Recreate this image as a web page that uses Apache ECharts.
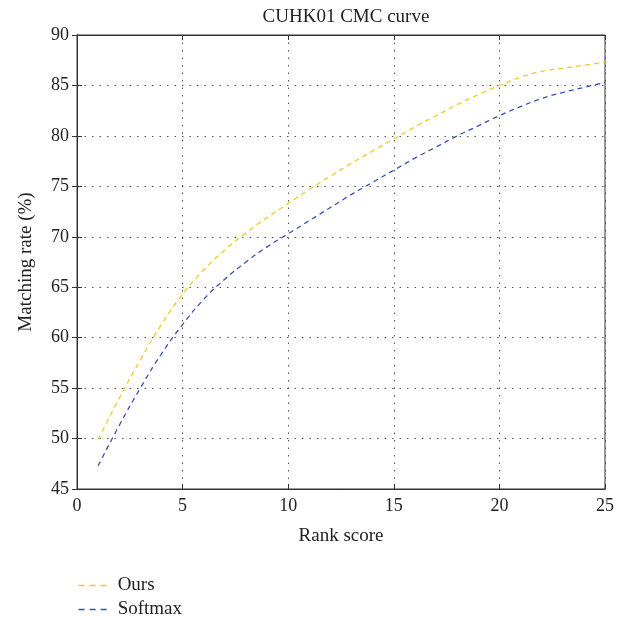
<!DOCTYPE html>
<html><head><meta charset="utf-8">
<script src="https://cdn.jsdelivr.net/npm/echarts@6/dist/echarts.min.js"></script>
<style>html,body{margin:0;padding:0;background:#fff}#c{width:625px;height:618px}</style>
</head><body><div id="c"></div>
<script>
const ranks = [1,2,3,4,5,6,7,8,9,10,11,12,13,14,15,16,17,18,19,20,21,22,23,24,25];
const ours = [49.9,54.0,57.8,61.3,64.3,66.7,68.7,70.4,71.9,73.3,74.7,76.0,77.3,78.5,79.7,80.9,82.0,83.1,84.1,85.0,85.8,86.4,86.7,87.0,87.3];
const softmax = [47.3,51.3,55.0,58.4,61.3,63.8,65.8,67.5,69.0,70.3,71.6,72.9,74.2,75.4,76.6,77.8,78.9,80.0,81.0,82.0,82.9,83.7,84.3,84.8,85.3];
const seriesNames = ['Ours','Softmax'];
const FONT = '"Liberation Serif","DejaVu Serif",serif';
const FS = 19;
const chart = echarts.init(document.getElementById('c'));
const gridLine = {show:true, lineStyle:{color:'#555', type:[1.5,6], width:1}};
const legendBase = {orient:'vertical', left:78, padding:0, itemWidth:29, itemHeight:12, itemGap:4,
  itemStyle:{opacity:0}, lineStyle:{type:[6,5], width:1.3},
  textStyle:{fontFamily:FONT, fontSize:FS, color:'#222', padding:[0,0,0,5]}};
chart.setOption({
  animation:false,
  textStyle:{fontFamily:FONT},
  title:{text:'CUHK01 CMC curve', left:341, top:3, textAlign:'center',
    textStyle:{fontFamily:FONT, fontSize:FS, fontWeight:'normal', color:'#222'}},
  grid:{left:77, right:20, top:35, bottom:129, show:true, borderColor:'#333', borderWidth:1},
  legend:[Object.assign({top:576, data:[seriesNames[0]]}, legendBase),
          Object.assign({top:600, data:[seriesNames[1]]}, legendBase)],
  xAxis:[{type:'value', min:0, max:25, interval:5, name:'Rank score', nameLocation:'middle', nameGap:38,
    nameTextStyle:{fontFamily:FONT, fontSize:FS, color:'#222'},
    axisLine:{show:true, lineStyle:{color:'#333'}}, axisTick:{inside:true, length:5, lineStyle:{color:'#333'}},
    axisLabel:{fontFamily:FONT, fontSize:18, color:'#222', margin:8}, splitLine:gridLine},
    {type:'value', position:'top', min:0, max:25, interval:5, axisLine:{show:true, lineStyle:{color:'#333'}},
    axisTick:{inside:true, length:5, lineStyle:{color:'#333'}}, axisLabel:{show:false}, splitLine:{show:false}}],
  yAxis:[{type:'value', min:45, max:90, interval:5, name:'Matching rate (%)', nameLocation:'middle', nameGap:41,
    nameTextStyle:{fontFamily:FONT, fontSize:FS, color:'#222'},
    axisLine:{show:true, lineStyle:{color:'#333'}}, axisTick:{inside:true, length:5, lineStyle:{color:'#333'}},
    axisLabel:{fontFamily:FONT, fontSize:18, color:'#222', margin:8}, splitLine:gridLine},
    {type:'value', position:'right', min:45, max:90, interval:5, axisLine:{show:true, lineStyle:{color:'#333'}},
    axisTick:{inside:true, length:5, lineStyle:{color:'#333'}}, axisLabel:{show:false}, splitLine:{show:false}}],
  series:[
    {name:seriesNames[0], type:'line', data:ranks.map((r,i)=>[r,ours[i]]), symbol:'none', smooth:true,
      color:'#F2C928', lineStyle:{color:'#F2C928', width:1.3, type:[5,4]}},
    {name:seriesNames[1], type:'line', data:ranks.map((r,i)=>[r,softmax[i]]), symbol:'none', smooth:true,
      color:'#3B52AC', lineStyle:{color:'#3B52AC', width:1.3, type:[5,4]}}
  ]
});
</script></body></html>
